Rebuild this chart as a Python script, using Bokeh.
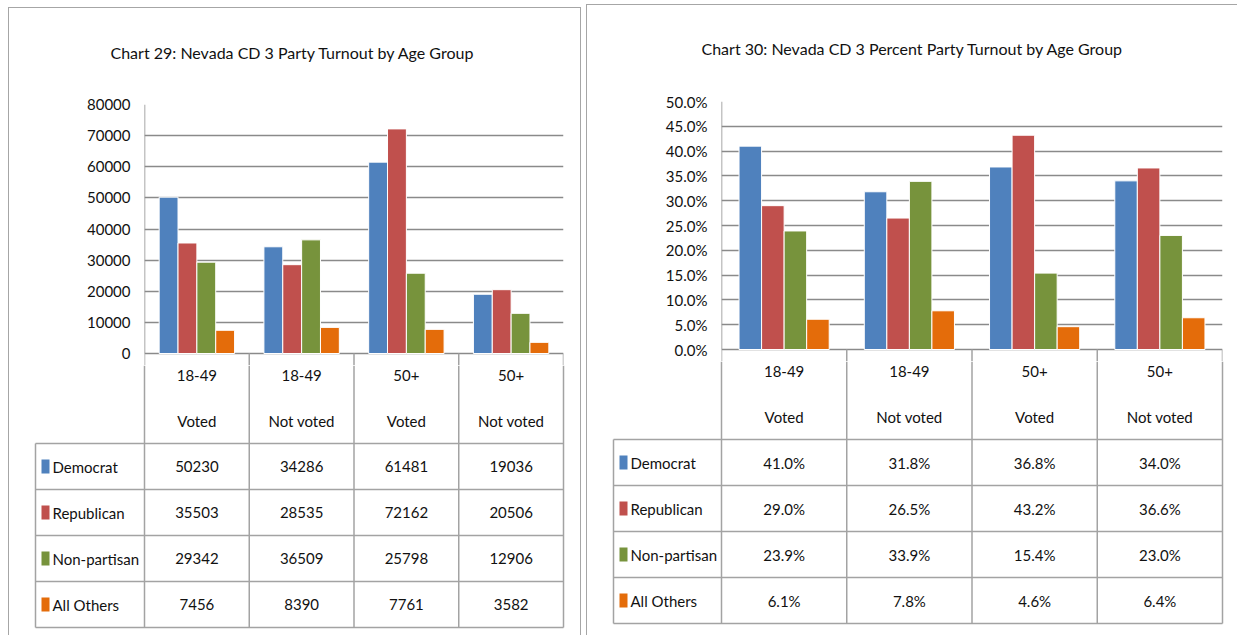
from bokeh.plotting import figure
from bokeh.layouts import row, column
from bokeh.models import Range1d, FixedTicker, Title, ColumnDataSource, Spacer, PrintfTickFormatter
from bokeh.core.properties import value
from bokeh.transform import dodge
from bokeh.embed import file_html
from bokeh.resources import INLINE

# ---------------- data ----------------
age_groups = ["18-49", "18-49", "50+", "50+"]
statuses = ["Voted", "Not voted", "Voted", "Not voted"]
series_names = ["Democrat", "Republican", "Non-partisan", "All Others"]
series_colors = ["#4F81BD", "#C0504D", "#77933C", "#E46C0A"]

dem_counts = [50230, 34286, 61481, 19036]
rep_counts = [35503, 28535, 72162, 20506]
npa_counts = [29342, 36509, 25798, 12906]
oth_counts = [7456, 8390, 7761, 3582]

dem_pct = [41.0, 31.8, 36.8, 34.0]
rep_pct = [29.0, 26.5, 43.2, 36.6]
npa_pct = [23.9, 33.9, 15.4, 23.0]
oth_pct = [6.1, 7.8, 4.6, 6.4]

count_ticks = [0, 10000, 20000, 30000, 40000, 50000, 60000, 70000, 80000]
pct_ticks = [0, 5, 10, 15, 20, 25, 30, 35, 40, 45, 50]

title_left = "Chart 29: Nevada CD 3 Party Turnout by Age Group"
title_right = "Chart 30: Nevada CD 3 Percent Party Turnout by Age Group"

FONT = "Lato"
FS = "15px"
TFS = "16px"
TXT = "#111111"
GRID = "#8a8a8a"
TLINE = "#a3a3a3"
BAR_W = 0.18
PAD = 12  # px of the chart frame below the zero line (table header area)


def make_chart(title, values, y_max, ticks, fmt, g):
    W = g["PR"] - g["PL"]
    FB = g["CB"] + PAD
    H = FB - g["PT"]
    y_min = -PAD * y_max / (g["CB"] - g["CT"])
    p = figure(width=W, height=H, x_range=Range1d(0, 4), y_range=Range1d(y_min, y_max),
               output_backend="svg", toolbar_location=None, frame_align=False,
               min_border_left=g["CL"] - g["PL"], min_border_right=g["PR"] - g["CR"],
               min_border_top=g["CT"] - g["PT"], min_border_bottom=0)
    p.outline_line_color = None
    p.border_fill_color = "white"
    p.xaxis.visible = False
    p.xgrid.visible = False
    ax = p.yaxis[0]
    ax.ticker = FixedTicker(ticks=ticks)
    ax.formatter = PrintfTickFormatter(format=fmt)
    ax.major_label_text_font = FONT
    ax.major_label_text_font_size = FS
    ax.major_label_text_color = TXT
    ax.major_tick_line_color = None
    ax.major_tick_out = 0
    ax.major_tick_in = 0
    ax.minor_tick_line_color = None
    ax.minor_tick_out = 0
    ax.axis_line_color = None
    ax.major_label_standoff = g["STANDOFF"]
    p.ygrid.grid_line_color = GRID
    p.ygrid.grid_line_width = 1.5

    # plot-area left edge and table column rules running down into the header area
    p.segment(x0=[0], y0=[0], x1=[0], y1=[y_max], line_color=GRID, line_width=1.5)
    p.segment(x0=[0, 1, 2, 3, 4], y0=[y_min] * 5, x1=[0, 1, 2, 3, 4], y1=[0] * 5,
              line_color=TLINE, line_width=1.5)

    src = ColumnDataSource(dict(x=[i + 0.5 for i in range(len(age_groups))],
                                **{f"s{k}": v for k, v in enumerate(values)}))
    for k, color in enumerate(series_colors):
        p.vbar(x=dodge("x", (k - 1.5) * BAR_W, range=p.x_range), top=f"s{k}", width=BAR_W,
               source=src, fill_color=color, line_color="white", line_width=1)

    # title: spacer title nearest the frame, then the real title above it
    p.add_layout(Title(text=" ", text_font_size="1px", standoff=g["TGAP"]), "above")
    p.add_layout(Title(text=title, text_font=FONT, text_font_size=TFS, text_font_style="normal",
                       text_color=TXT, align="left", offset=g["TX"] - g["CL"], standoff=0,
                       vertical_align="bottom"), "above")
    return p


def make_table(labels, g):
    FB = g["CB"] + PAD
    W = g["PR"] - g["PL"]
    H = g["PB"] - FB
    CW = (g["CR"] - g["CL"]) / 4.0
    RH = g["RH"]
    fl = g["TL"] - 3
    fr = g["CR"] + 3
    x0 = (fl - g["CL"]) / CW
    x1 = (fr - g["CL"]) / CW
    y_top = (g["TB"] - FB) / RH
    y_bot = -(g["PB"] - g["TB"]) / RH
    p = figure(width=W, height=H, x_range=Range1d(x0, x1), y_range=Range1d(y_bot, y_top),
               output_backend="svg", toolbar_location=None, frame_align=False,
               min_border_left=fl - g["PL"], min_border_right=g["PR"] - fr,
               min_border_top=0, min_border_bottom=0)
    p.outline_line_color = None
    p.border_fill_color = "white"
    p.axis.visible = False
    p.grid.visible = False
    x_leg = (g["TL"] - g["CL"]) / CW
    n = len(series_names)
    # horizontal rules
    hy = list(range(n + 1))
    p.segment(x0=[x_leg] * (n + 1), y0=hy, x1=[4] * (n + 1), y1=hy, line_color=TLINE, line_width=1.5)
    # vertical rules
    vx = [0, 1, 2, 3, 4, x_leg]
    vy1 = [y_top] * 5 + [n]
    p.segment(x0=vx, y0=[0] * 6, x1=vx, y1=vy1, line_color=TLINE, line_width=1.5)

    xc = [i + 0.5 for i in range(len(age_groups))]
    common = dict(text_font=value(FONT), text_font_size=FS, text_color=TXT,
                  text_align="center", text_baseline="middle")
    h_top = (g["TB"] - g["CB"]) / RH
    p.text(x=xc, y=[h_top - g["H1"] / RH] * 4, text=age_groups, **common)
    p.text(x=xc, y=[h_top - g["H2"] / RH] * 4, text=statuses, **common)
    for r, (name, color, vals) in enumerate(zip(series_names, series_colors, labels)):
        yc = n - r - 0.5
        p.text(x=xc, y=[yc] * 4, text=vals, **common)
        p.rect(x=[x_leg + 10 / CW], y=[yc], width=8, height=14, width_units="screen",
               height_units="screen", fill_color=color, line_color=None)
        p.text(x=[x_leg + 17 / CW], y=[yc], text=[name], text_font=value(FONT),
               text_font_size=FS, text_color=TXT, text_align="left", text_baseline="middle")
    return p


# geometry (absolute page pixels)
gL = dict(PL=9, PR=580, PT=8, PB=635, CL=144, CR=563, CT=104, CB=353,
          TL=35, TB=627, RH=46, H1=22, H2=67, STANDOFF=14, TX=110, TGAP=40)
gR = dict(PL=587, PR=1237, PT=5, PB=635, CL=721, CR=1222, CT=101, CB=349,
          TL=613, TB=623, RH=46, H1=22, H2=67, STANDOFF=14, TX=701, TGAP=41)

count_labels = [[str(v) for v in s] for s in (dem_counts, rep_counts, npa_counts, oth_counts)]
pct_labels = [[f"{v:.1f}%" for v in s] for s in (dem_pct, rep_pct, npa_pct, oth_pct)]

chartL = make_chart(title_left, [dem_counts, rep_counts, npa_counts, oth_counts], 80000,
                    count_ticks, "%d", gL)
tableL = make_table(count_labels, gL)
chartR = make_chart(title_right, [dem_pct, rep_pct, npa_pct, oth_pct], 50,
                    pct_ticks, "%.1f%%", gR)
tableR = make_table(pct_labels, gR)

BORDER = "1px solid #a6a6a6"
left_panel = column(chartL, tableL, spacing=0,
                    styles={"border-left": BORDER, "border-top": BORDER, "border-right": BORDER})
right_panel = column(chartR, tableR, spacing=0,
                     styles={"border-left": BORDER, "border-top": BORDER})
layout = row(Spacer(width=8, height=10),
             column(Spacer(width=10, height=gL["PT"] - 1), left_panel, spacing=0),
             Spacer(width=5, height=10),
             column(Spacer(width=10, height=gR["PT"] - 1), right_panel, spacing=0),
             spacing=0)

open("out.html", "w").write(file_html(layout, INLINE))
